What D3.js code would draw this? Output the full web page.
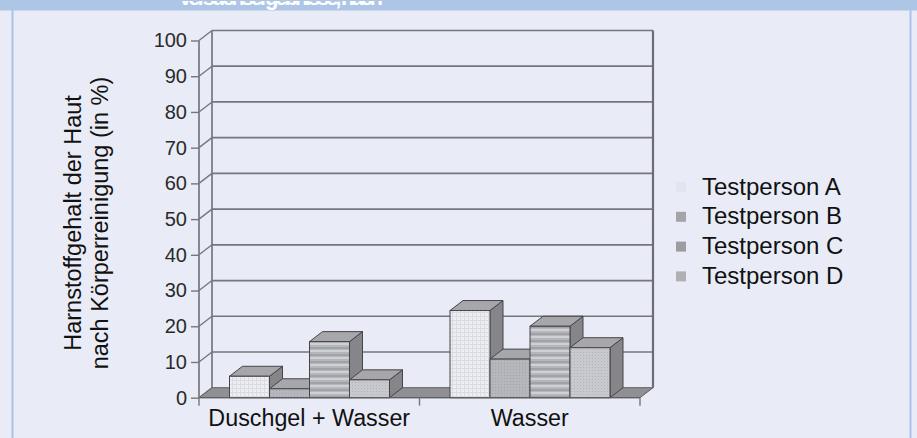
<!DOCTYPE html>
<html><head><meta charset="utf-8">
<script src="https://cdn.jsdelivr.net/npm/d3@7"></script>
<style>
html,body{margin:0;padding:0;background:#e9ecf7;}
svg{display:block;font-family:"Liberation Sans",Arial,Helvetica,sans-serif;}
</style></head>
<body><svg id="c" width="917" height="438"></svg>
<script>
const categories = ["Duschgel + Wasser", "Wasser"];
const seriesNames = ["Testperson A", "Testperson B", "Testperson C", "Testperson D"];
const seriesA = [6, 24.4];
const seriesB = [2.5, 10.8];
const seriesC = [15.7, 20];
const seriesD = [5, 14];
const yTickValues = [0, 10, 20, 30, 40, 50, 60, 70, 80, 90, 100];
const yTitle = ["Harnstoffgehalt der Haut", "nach Körperreinigung (in %)"];
const headerText = "Versuchsergebnisse, nach";

const allSeries = [seriesA, seriesB, seriesC, seriesD];
const svg = d3.select("#c");

// frame
svg.append("rect").attr("x",0).attr("y",0).attr("width",917).attr("height",438).attr("fill","#e9ecf7");
svg.append("rect").attr("x",0).attr("y",0).attr("width",917).attr("height",10).attr("fill","#adc6e6");
svg.append("line").attr("x1",0).attr("x2",917).attr("y1",10.5).attr("y2",10.5).attr("stroke","#c9d8ee").attr("stroke-width",1);
svg.append("text").attr("x",178).attr("y",5).attr("fill","#fff").attr("font-weight","bold")
  .attr("font-size",22).attr("textLength",205).text(headerText);
svg.append("rect").attr("x",0).attr("y",0).attr("width",917).attr("height",1).attr("fill","#adc6e6");
svg.append("line").attr("x1",12.5).attr("x2",12.5).attr("y1",10).attr("y2",438).attr("stroke","#a9c4e8").attr("stroke-width",2);
svg.append("line").attr("x1",910.5).attr("x2",910.5).attr("y1",10).attr("y2",438).attr("stroke","#a9c4e8").attr("stroke-width",2);

// patterns
const defs = svg.append("defs");
function pat(id, w, h, base, draw){
  const p = defs.append("pattern").attr("id",id).attr("patternUnits","userSpaceOnUse").attr("width",w).attr("height",h);
  p.append("rect").attr("width",w).attr("height",h).attr("fill",base);
  draw(p);
}
pat("pA",4,4,"#eceef3",p=>{p.append("rect").attr("x",0).attr("y",0).attr("width",4).attr("height",1).attr("fill","#d9dbe1");p.append("rect").attr("x",0).attr("y",0).attr("width",1).attr("height",4).attr("fill","#d9dbe1");});
pat("pB",3,3,"#b5b7bd",p=>{p.append("rect").attr("x",0).attr("y",0).attr("width",1).attr("height",1).attr("fill","#a2a4aa");});
pat("pC",6,7,"#b4b6bc",p=>{p.append("rect").attr("x",0).attr("y",0).attr("width",6).attr("height",2).attr("fill","#cdd0d5");p.append("rect").attr("x",0).attr("y",4).attr("width",6).attr("height",2).attr("fill","#a0a2a8");});
pat("pD",3,3,"#c7c9cf",p=>{p.append("rect").attr("x",1).attr("y",1).attr("width",1).attr("height",1).attr("fill","#b1b3b9");});
const fills = ["url(#pA)","url(#pB)","url(#pC)","url(#pD)"];
const swatch = ["#e3e5ec","#a3a3a8","#9c9ca1","#afafb4"];

// scales
const x0 = d3.scaleBand().domain(categories).range([199, 640]).paddingInner(0).paddingOuter(0);
const x1 = d3.scaleBand().domain(seriesNames).range([30.5, 190.5]).padding(0);
const y = d3.scaleLinear().domain([0, 100]).range([397.7, 40.5]);
const DX = 13, DY = -10;
const lineCol = "#76767c";

// back wall
const g = svg.append("g");
const bx0 = 199 + DX, bx1 = 640 + DX;
g.selectAll("line.grid").data(yTickValues.slice(1)).join("line").attr("class","grid")
  .attr("x1",bx0).attr("x2",bx1).attr("y1",d=>y(d)+DY).attr("y2",d=>y(d)+DY)
  .attr("stroke",lineCol).attr("stroke-width",1.7);
g.append("line").attr("x1",bx0).attr("x2",bx0).attr("y1",y(100)+DY).attr("y2",y(0)+DY).attr("stroke",lineCol).attr("stroke-width",1.7);
g.append("line").attr("x1",bx1).attr("x2",bx1).attr("y1",y(100)+DY).attr("y2",y(0)+DY).attr("stroke","#6c6c72").attr("stroke-width",2.2);
// side wall slants
g.selectAll("line.slant").data(yTickValues).join("line").attr("class","slant")
  .attr("x1",199).attr("x2",bx0).attr("y1",d=>y(d)).attr("y2",d=>y(d)+DY)
  .attr("stroke",lineCol).attr("stroke-width",1.4);

// floor
g.append("path").attr("d",`M199,${y(0)}L640,${y(0)}L${bx1},${y(0)+DY}L${bx0},${y(0)+DY}Z`)
  .attr("fill","#8f8f94").attr("stroke","#5e5e64").attr("stroke-width",1);

// y axis
const yAxis = d3.axisLeft(y).tickValues(yTickValues).tickSize(8).tickPadding(4);
const ya = svg.append("g").attr("transform","translate(199,0)").call(yAxis);
ya.select(".domain").attr("stroke",lineCol).attr("stroke-width",1.7).attr("d",`M0,${y(0)}V${y(100)}`);
ya.selectAll(".tick line").attr("stroke",lineCol).attr("stroke-width",1.4);
ya.selectAll(".tick text").attr("font-size",20).attr("fill","#2a2a2a").attr("font-family","Liberation Sans, Arial, sans-serif");

// bars
const bars = [];
categories.forEach((c,ci)=>seriesNames.forEach((s,si)=>bars.push({c,s,si,v:allSeries[si][ci]})));
const bg = svg.append("g");
bars.forEach(b=>{
  const xl = x0(b.c) + x1(b.s), w = x1.bandwidth(), yv = y(b.v), yb = y(0);
  const gg = bg.append("g");
  gg.append("path").attr("d",`M${xl+w},${yv}L${xl+w+DX},${yv+DY}L${xl+w+DX},${yb+DY}L${xl+w},${yb}Z`)
    .attr("fill","#85858a").attr("stroke","#45454a").attr("stroke-width",1);
  gg.append("path").attr("d",`M${xl},${yv}L${xl+DX},${yv+DY}L${xl+w+DX},${yv+DY}L${xl+w},${yv}Z`)
    .attr("fill","#a6a6ab").attr("stroke","#45454a").attr("stroke-width",1);
  gg.append("rect").attr("x",xl).attr("y",yv).attr("width",w).attr("height",yb-yv)
    .attr("fill",fills[b.si]).attr("stroke","#45454a").attr("stroke-width",1);
});

// x axis
const xAxis = d3.axisBottom(x0).tickSize(0).tickPadding(12);
const xa = svg.append("g").attr("transform",`translate(0,${y(0)})`).call(xAxis);
xa.select(".domain").attr("stroke","#5e5e64").attr("stroke-width",1.2).attr("d","M199,0H640");
xa.selectAll(".tick text").attr("font-size",23.3).attr("fill","#111").attr("font-family","Liberation Sans, Arial, sans-serif");
const bounds = [x0(categories[0]), x0(categories[1]), x0(categories[1]) + x0.bandwidth()];
svg.selectAll("line.ctick").data(bounds).join("line").attr("class","ctick")
  .attr("x1",d=>d).attr("x2",d=>d).attr("y1",y(0)).attr("y2",y(0)+8)
  .attr("stroke",lineCol).attr("stroke-width",1.4);

// y title
const yt = svg.append("text").attr("transform","translate(0,223) rotate(-90)")
  .attr("text-anchor","middle").attr("font-size",23.5).attr("fill","#111");
yt.append("tspan").attr("x",0).attr("y",81).text(yTitle[0]);
yt.append("tspan").attr("x",0).attr("y",108).text(yTitle[1]);

// legend
const lg = svg.append("g").attr("transform","translate(676,187)");
const li = lg.selectAll("g").data(seriesNames).join("g").attr("transform",(d,i)=>`translate(0,${i*29.8})`);
li.append("rect").attr("x",0).attr("y",-5).attr("width",10).attr("height",10).attr("fill",(d,i)=>swatch[i]);
li.append("text").attr("x",26).attr("y",7.5).attr("font-size",24).attr("fill","#111").text(d=>d);
</script></body></html>
